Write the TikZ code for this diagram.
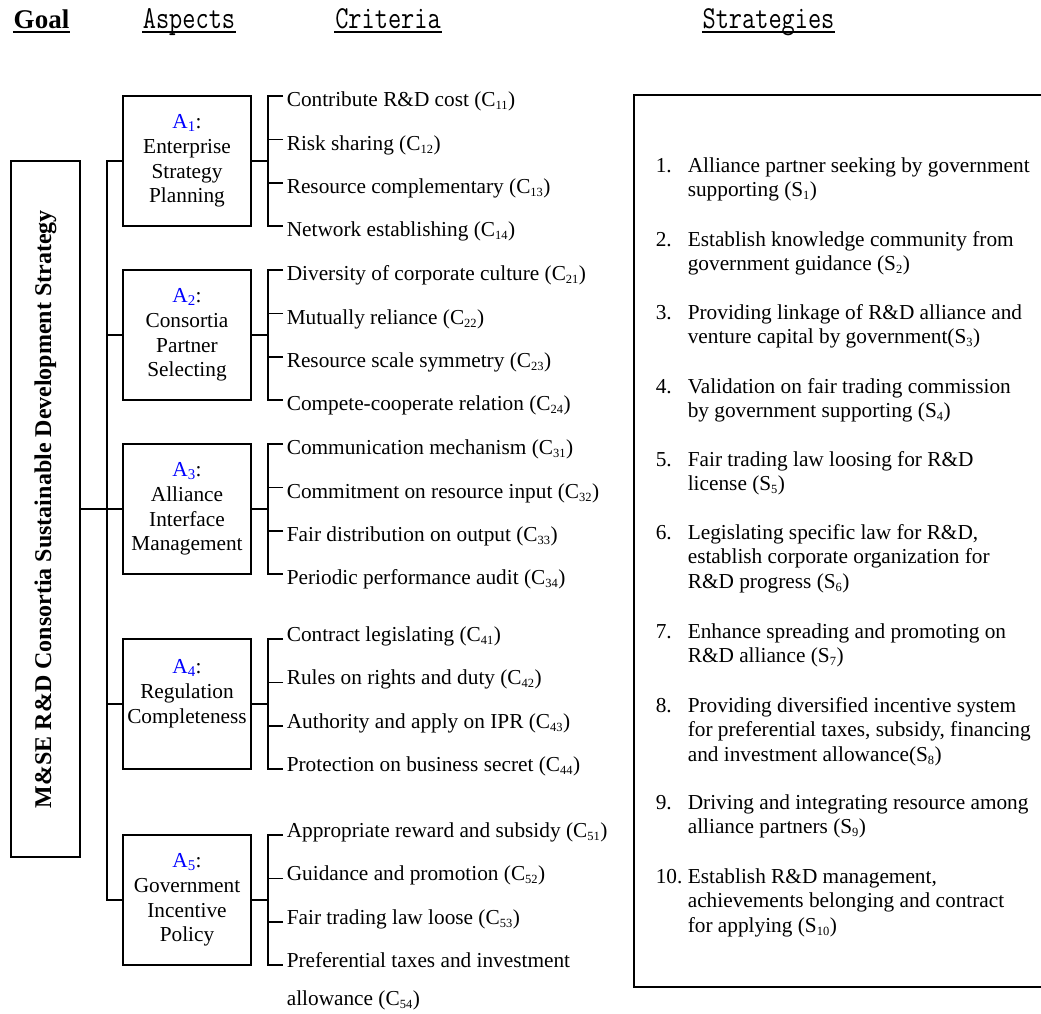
\documentclass[tikz,border=0pt]{standalone}
\usepackage{fontspec}
\setmainfont{Liberation Serif}
\usepackage{graphicx}
\usepackage{tikz}
\tikzstyle{goalbox}=[draw, minimum width=69pt, minimum height=696pt, inner sep=0pt]
\tikzstyle{asp}=[draw, minimum width=128pt, minimum height=130pt, align=center, inner sep=0pt]
\tikzstyle{crit}=[anchor=west, inner xsep=3pt, inner ysep=0pt, text height=21.4pt, text depth=0pt]
\tikzstyle{crit high}=[crit, text height=5pt]
\tikzstyle{strat}=[anchor=base west, inner sep=0pt]
\tikzstyle{head}=[anchor=base, inner sep=0pt]
\tikzstyle{uline}=[line width=1.5pt]
\newcommand{\monohead}[1]{\scalebox{0.8}[1]{\fontsize{32}{32}\selectfont\ttfamily #1}}
\newcommand{\asptag}[1]{\textcolor{blue}{A\textsubscript{#1}}:}
\newcommand{\subix}[1]{\textsubscript{\fontsize{12.5}{12.5}\selectfont #1}}

\begin{document}
\begin{tikzpicture}[x=1pt, y=-1pt, line width=1.6pt, font=\fontsize{21.3}{24.8}\selectfont]
	\useasboundingbox (0, 0) rectangle (1041, 1013);
	\begin{scope}
		\node (hg) at (41.5, 28)[head, font=\fontsize{27}{27}\selectfont\bfseries] {Goal};
		\node (ha) at (189, 28)[head] {\monohead{Aspects}};
		\node (hc) at (388, 28)[head] {\monohead{Criteria}};
		\node (hs) at (768.5, 28)[head] {\monohead{Strategies}};
		\foreach \h in {hg, ha, hc, hs}
			\draw[uline] ([yshift=-4pt]\h.base west) -- ([yshift=-4pt]\h.base east);
	\end{scope}
	\begin{scope}
		\node (g) at (45.5, 509)[goalbox] {\rotatebox{90}{\fontsize{24}{24}\selectfont\bfseries M\&SE R\&D Consortia Sustainable Development Strategy}};
		\node (a1) at (187, 161)[asp] {\asptag{1}\\Enterprise\\Strategy\\Planning};
		\node (a2) at (187, 335)[asp] {\asptag{2}\\Consortia\\Partner\\Selecting};
		\node (a3) at (187, 509)[asp] {\asptag{3}\\Alliance\\Interface\\Management};
		\node (a4) at (187, 704)[asp] {\asptag{4}\\Regulation\\Completeness\\\mbox{}};
		\node (a5) at (187, 900)[asp] {\asptag{5}\\Government\\Incentive\\Policy};
		\foreach \n/\y/\txt in {11/96/{Contribute R\&D cost}, 12/139.3/{Risk sharing}, 13/182.7/{Resource complementary}, 14/226/{Network establishing},
				21/270/{Diversity of corporate culture}, 22/313.3/{Mutually reliance}, 23/356.7/{Resource scale symmetry}, 24/400/{Compete-cooperate relation},
				31/444/{Communication mechanism}, 32/487.3/{Commitment on resource input}, 33/530.7/{Fair distribution on output}, 34/574/{Periodic performance audit}}
			\node (c\n) at (283, \y)[crit] {\txt\ (C\subix{\n})};
		\foreach \n/\y/\txt in {41/639/{Contract legislating}, 42/682.3/{Rules on rights and duty}, 43/725.7/{Authority and apply on IPR}, 44/769/{Protection on business secret},
				51/835/{Appropriate reward and subsidy}, 52/878.3/{Guidance and promotion}, 53/921.7/{Fair trading law loose}}
			\node (c\n) at (283, \y)[crit high] {\txt\ (C\subix{\n})};
		\node (c54) at (283, 965)[crit high] {\begin{tabular}[t]{@{}l@{}}Preferential taxes and investment\\[13pt]allowance (C\subix{54})\end{tabular}};
	\end{scope}
	\begin{scope}
		\coordinate (sp) at (107, 161);
		\draw (a1.west) -- (sp) |- (a5.west);
		\foreach \i in {2, 3, 4}
			\draw (a\i.west) -- (a\i.west -| sp);
		\draw (g.east) -- (g.east -| sp);
		\foreach \i in {1, ..., 5} {
			\coordinate (b\i) at ([xshift=16pt]a\i.east);
			\draw (a\i.east) -- (b\i);
			\draw (c\i1.west) -| (b\i) |- (c\i4.west);
			\draw (c\i2.west) -- (c\i2.west -| b\i);
			\draw (c\i3.west) -- (c\i3.west -| b\i);
		}
	\end{scope}
	\begin{scope}
		\draw (634, 95) rectangle (1060, 987);
		\foreach \n/\y/\txt in {1/172/{Alliance partner seeking by government\\supporting (S\subix{1})},
				2/246/{Establish knowledge community from\\government guidance (S\subix{2})},
				3/319/{Providing linkage of R\&D alliance and\\venture capital by government(S\subix{3})},
				4/393/{Validation on fair trading commission\\by government supporting (S\subix{4})},
				5/466/{Fair trading law loosing for R\&D\\license (S\subix{5})},
				6/539/{Legislating specific law for R\&D,\\establish corporate organization for\\R\&D progress (S\subix{6})},
				7/638/{Enhance spreading and promoting on\\R\&D alliance (S\subix{7})},
				8/712/{Providing diversified incentive system\\for preferential taxes, subsidy, financing\\and investment allowance(S\subix{8})},
				9/809/{Driving and integrating resource among\\alliance partners (S\subix{9})},
				10/883/{Establish R\&D management,\\achievements belonging and contract\\for applying (S\subix{10})}}
			\node (s\n) at (655, \y)[strat] {\makebox[32pt][l]{\n.}\begin{tabular}[t]{@{}l@{}}\txt\end{tabular}};
	\end{scope}
\end{tikzpicture}
\end{document}
